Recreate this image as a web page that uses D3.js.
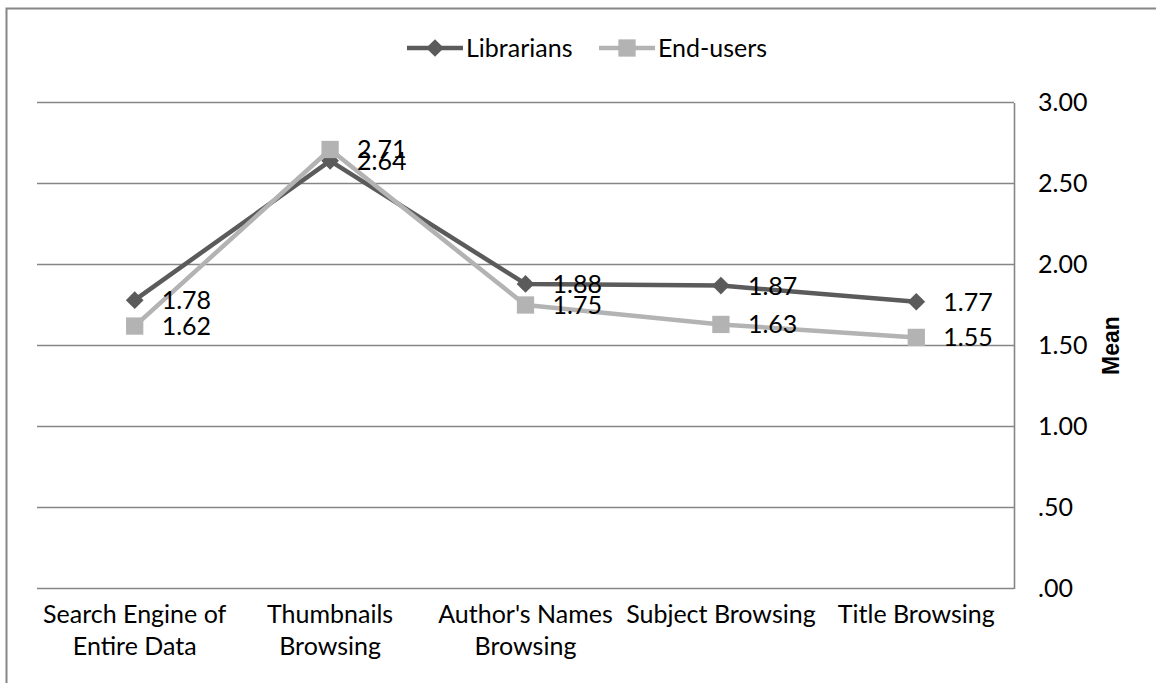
<!DOCTYPE html>
<html>
<head>
<meta charset="utf-8">
<script src="https://cdn.jsdelivr.net/npm/d3@7/dist/d3.min.js"></script>
<style>
  html, body { margin: 0; padding: 0; background: #fff; }
  svg { display: block; }
  text { font-family: Lato, "Open Sans", sans-serif; fill: #000; }
</style>
</head>
<body>
<svg id="chart" width="1156" height="683"></svg>
<script>
// Mean ratings per search / browsing feature
const categories = ["Search Engine of Entire Data", "Thumbnails Browsing", "Author's Names Browsing", "Subject Browsing", "Title Browsing"];
const librarians = [1.78, 2.64, 1.88, 1.87, 1.77];
const endUsers = [1.62, 2.71, 1.75, 1.63, 1.55];
const seriesNames = ["Librarians", "End-users"];
const yTicks = [0, 0.5, 1, 1.5, 2, 2.5, 3];
const yTitle = "Mean";

const W = 1156, H = 683;
const plot = { left: 37, right: 1014, top: 102.5, bottom: 588.5 };
const gridColor = "#868686";
const colors = { "Librarians": "#5b5b5b", "End-users": "#b3b3b3" };
const fontSize = 25;

const svg = d3.select("#chart");

// Outer frame (top and left edges)
svg.append("path")
  .attr("d", `M6.5,${H} V8.5 H${W}`)
  .attr("fill", "none")
  .attr("stroke", gridColor)
  .attr("stroke-width", 2);

const x = d3.scaleBand().domain(categories).range([plot.left, plot.right]);
const y = d3.scaleLinear().domain([0, 3]).range([plot.bottom, plot.top]);
const cx = c => x(c) + x.bandwidth() / 2;

// Horizontal gridlines
svg.append("g").selectAll("line")
  .data(yTicks)
  .join("line")
  .attr("x1", plot.left).attr("x2", plot.right)
  .attr("y1", d => y(d)).attr("y2", d => y(d))
  .attr("stroke", gridColor)
  .attr("stroke-width", 1.6);

// Value axis on the right
const fmt = d => d3.format(".2f")(d).replace(/^0/, "");
const yAxis = svg.append("g")
  .attr("transform", `translate(${plot.right},0)`)
  .call(d3.axisRight(y).tickValues(yTicks).tickFormat(fmt).tickSize(0).tickSizeOuter(0).tickPadding(24));
yAxis.select(".domain").attr("stroke", gridColor).attr("stroke-width", 1.6);
yAxis.selectAll("text")
  .attr("font-family", "Lato, 'Open Sans', sans-serif")
  .attr("font-size", fontSize)
  .attr("fill", "#000");

// Axis title
svg.append("text")
  .attr("transform", `translate(1111,${(plot.top + plot.bottom) / 2}) rotate(-90)`)
  .attr("text-anchor", "middle")
  .attr("dy", "0.35em")
  .style("font-family", "'Liberation Sans', Arial, sans-serif")
  .style("font-weight", "bold")
  .style("font-size", "23px")
  .text(yTitle);

// Category labels, wrapped to the band width
const xLab = svg.append("g").selectAll("text")
  .data(categories)
  .join("text")
  .attr("x", d => cx(d))
  .attr("y", 623)
  .attr("text-anchor", "middle")
  .attr("font-size", fontSize);
xLab.each(function (d) {
  const t = d3.select(this);
  const words = d.split(" ");
  let line = [];
  let ts = t.append("tspan").attr("x", cx(d)).attr("dy", 0);
  words.forEach(w => {
    line.push(w);
    ts.text(line.join(" "));
    if (ts.node().getComputedTextLength() > x.bandwidth() - 4 && line.length > 1) {
      line.pop();
      ts.text(line.join(" "));
      line = [w];
      ts = t.append("tspan").attr("x", cx(d)).attr("dy", 32).text(w);
    }
  });
});

// Series
const series = [
  { name: seriesNames[0], values: librarians, marker: d3.symbolDiamond2, size: 200 },
  { name: seriesNames[1], values: endUsers, marker: d3.symbolSquare2, size: 380 }
];
const line = d3.line().x((d, i) => cx(categories[i])).y(d => y(d));

series.forEach(s => {
  const g = svg.append("g");
  g.append("path")
    .attr("d", line(s.values))
    .attr("fill", "none")
    .attr("stroke", colors[s.name])
    .attr("stroke-width", 4.5)
    .attr("stroke-linejoin", "round");
  g.selectAll("path.mk")
    .data(s.values)
    .join("path")
    .attr("class", "mk")
    .attr("transform", (d, i) => `translate(${cx(categories[i])},${y(d)})`)
    .attr("d", d3.symbol().type(s.marker).size(s.size))
    .attr("fill", colors[s.name]);
});

// Value labels to the right of each point
series.forEach(s => {
  svg.append("g").selectAll("text")
    .data(s.values)
    .join("text")
    .attr("x", (d, i) => cx(categories[i]) + 27)
    .attr("y", d => y(d))
    .attr("dy", "0.36em")
    .attr("font-size", fontSize)
    .text(d => d3.format(".2f")(d));
});

// Legend
const legend = [
  { name: seriesNames[0], x0: 407, marker: d3.symbolDiamond2, size: 200 },
  { name: seriesNames[1], x0: 599, marker: d3.symbolSquare2, size: 380 }
];
const lg = svg.append("g").selectAll("g").data(legend).join("g")
  .attr("transform", d => `translate(${d.x0},48)`);
lg.append("line")
  .attr("x1", 0).attr("x2", 56).attr("y1", 0).attr("y2", 0)
  .attr("stroke", d => colors[d.name]).attr("stroke-width", 4.5);
lg.append("path")
  .attr("transform", "translate(28,0)")
  .attr("d", d => d3.symbol().type(d.marker).size(d.size)())
  .attr("fill", d => colors[d.name]);
lg.append("text")
  .attr("x", 59).attr("dy", "0.36em")
  .attr("font-size", fontSize)
  .text(d => d.name);
</script>
</body>
</html>
